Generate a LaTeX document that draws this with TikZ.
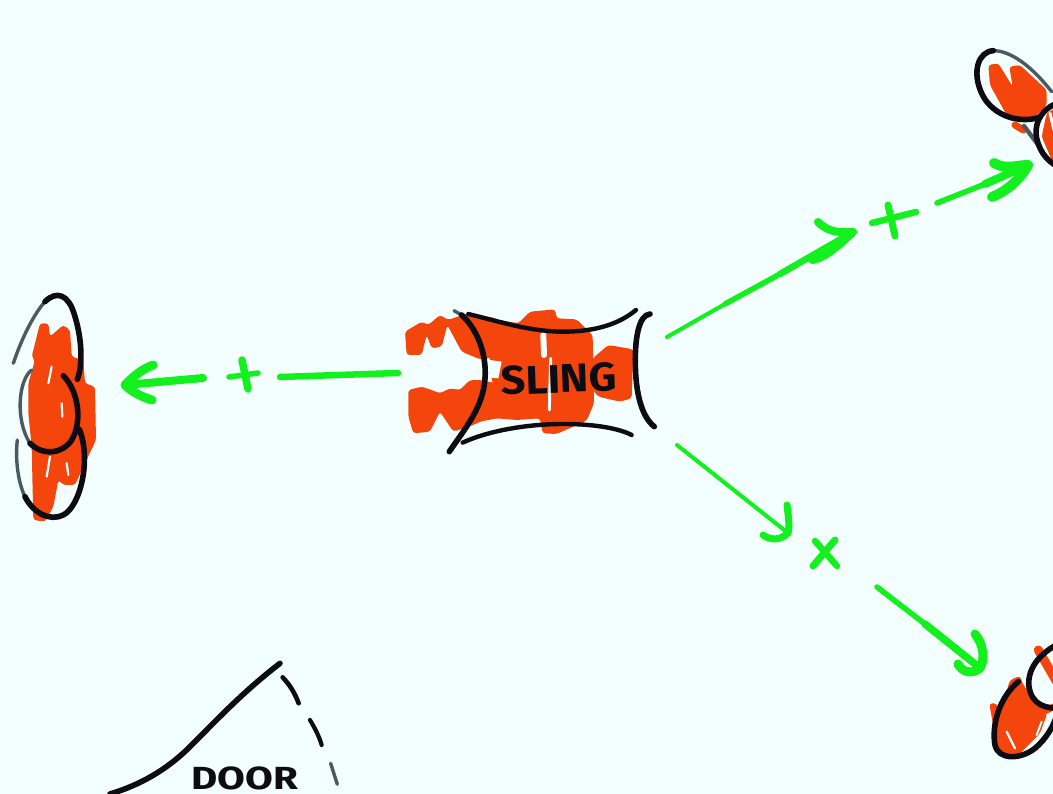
\documentclass[tikz,border=0pt]{standalone}
\usepackage{fontspec}
\setmainfont{Fira Sans}
\definecolor{bg}{HTML}{F3FFFE}
\definecolor{rd}{HTML}{F4450C}
\definecolor{gn}{HTML}{12F01E}
\definecolor{gr}{HTML}{4A5A62}
\definecolor{ink}{HTML}{0C0C12}
\tikzset{
 brush/.style={line cap=round,line join=round},
 scrib/.style={brush,draw=rd,line width=14pt},
 blob/.style={fill=rd,rounded corners=3pt},
 gap/.style={brush,draw=bg,line width=3pt},
 inkline/.style={brush,draw=ink,line width=5.6pt},
 grayline/.style={brush,draw=gr,line width=3.4pt},
 arrowline/.style={brush,draw=gn,line width=6.5pt},
 thinline/.style={brush,draw=gn,line width=4pt},
 midline/.style={brush,draw=gn,line width=5.5pt},
 headline/.style={brush,draw=gn,line width=9pt},
 hand/.style={text=ink,inner sep=0pt},
 zoomA/.style={shift={(390,290)},x=.3333pt,y=-.3333pt},
 zoomB/.style={shift={(0,280)},x=.3333pt,y=-.3333pt},
 zoomC/.style={shift={(850,30)},x=.3333pt,y=-.3333pt},
 zoomD/.style={shift={(850,570)},x=.3333pt,y=-.3333pt},
 zoomE/.style={shift={(90,650)},x=.3333pt,y=-.3333pt},
}
\begin{document}
\begin{tikzpicture}[x=1pt,y=-1pt]
\useasboundingbox (0,0) rectangle (1053,794);
\clip (0,0) rectangle (1053,794);
\fill[bg] (0,0) rectangle (1053,794);

% ---------- sling
\begin{scope}[zoomA]
 \fill[blob] (45,125)--(95,95)--(115,105)--(150,75)--(175,90)--(230,70)--(320,85)--(330,200)--(270,208)--(215,185)--(172,105)--(155,170)--(125,175)--(110,135)--(95,195)--(50,195)--cycle;
 \fill[blob] (300,85)--(385,100)--(420,65)--(495,58)--(500,85)--(560,88)--(608,135)--(612,340)--(590,392)--(500,432)--(458,430)--(450,385)--(330,385)--(300,240)--cycle;
 \fill[blob] (55,300)--(95,290)--(125,300)--(150,310)--(180,295)--(210,300)--(240,270)--(270,270)--(320,280)--(380,260)--(430,280)--(480,370)--(450,385)--(380,390)--(320,385)--(270,395)--(250,405)--(190,425)--(150,365)--(120,425)--(70,430)--(55,380)--cycle;
 \fill[blob] (655,165)--(730,178)--(725,325)--(690,335)--(625,320)--(608,300)--(608,205)--cycle;
 \draw[gap,line width=6pt] (460,135)--(462,195);
 \draw[brush,draw=bg,line width=3pt] (482,205)--(478,360);
 \fill[bg] (285,208)--(335,215)--(325,265)--(290,262)--cycle;
\end{scope}
\node[hand,font=\bfseries\fontsize{40}{40}\selectfont,rotate=2,xscale=1.08] (sling) at (559,379) {SLING};
\begin{scope}[zoomA]
 \draw[grayline] (192,62)--(215,75);
 \draw[inkline] (215,75) .. controls (265,120) and (300,210) .. (280,300) .. controls (265,370) and (215,430) .. (178,485);
 \draw[inkline,line width=4.4pt] (235,72) .. controls (330,95) and (420,125) .. (520,125) .. controls (620,125) and (690,100) .. (738,60);
 \draw[inkline] (780,72) .. controls (745,75) and (735,150) .. (736,220) .. controls (737,310) and (755,380) .. (793,410);
 \draw[inkline,line width=4.4pt] (218,458) .. controls (300,420) and (420,402) .. (520,402) .. controls (600,402) and (680,412) .. (725,435);
\end{scope}

% ---------- left target
\begin{scope}[zoomB]
 \fill[blob] (120,130)--(145,130)--(150,170)--(190,135)--(210,150)--(215,230)--(250,240)--(255,310)--(285,320)--(288,480)--(250,560)--(225,615)--(190,615)--(175,600)--(160,680)--(135,725)--(100,720)--(95,500)--(85,400)--(85,310)--(105,240)--(95,230)--cycle;
 \draw[gap,line width=2.2pt] (150,530)--(140,590);
 \draw[gap,line width=2.2pt] (155,260)--(145,310);
 \draw[gap,line width=2.2pt] (185,370)--(187,410);
 \draw[gap,line width=2.2pt] (200,550)--(205,585);
 \draw[grayline] (40,250) .. controls (60,190) and (95,110) .. (135,65);
 \draw[inkline] (135,65) .. controls (170,30) and (205,45) .. (222,100) .. controls (245,170) and (250,250) .. (232,298);
 \draw[grayline] (95,270) .. controls (55,300) and (45,420) .. (90,490);
 \draw[inkline] (90,490) .. controls (130,530) and (190,520) .. (215,480) .. controls (245,430) and (240,340) .. (190,287);
 \draw[grayline] (52,480) .. controls (45,540) and (55,610) .. (75,650);
 \draw[inkline] (75,650) .. controls (100,700) and (150,725) .. (190,705) .. controls (240,680) and (275,540) .. (238,448);
\end{scope}

% ---------- top right target
\begin{scope}[zoomC]
 \fill[blob] (415,105)--(445,100)--(488,170)--(478,110)--(510,105)--(590,180)--(590,225)--(545,272)--(470,255)--(420,165)--cycle;
 \draw[scrib,line width=7pt] (495,285)--(520,300);
 \fill[blob] (640,220)--(590,250)--(575,320)--(610,400)--(640,410)--cycle;
 \draw[gap,line width=3pt] (600,250)--(612,300);
 \draw[grayline] (430,62) .. controls (470,62) and (530,90) .. (605,185);
 \draw[inkline] (430,62) .. controls (385,65) and (365,125) .. (395,190) .. controls (420,245) and (490,285) .. (570,262);
 \draw[grayline,line width=4.4pt] (522,288)--(565,345);
 \draw[inkline] (640,215) .. controls (585,225) and (550,270) .. (560,325) .. controls (570,370) and (600,405) .. (640,415);
\end{scope}

% ---------- bottom right target
\begin{scope}[zoomD]
 \fill[blob] (418,400)--(440,400)--(450,430)--(480,330)--(510,318)--(520,345)--(592,430)--(570,490)--(490,570)--(440,530)--cycle;
 \draw[scrib,line width=9pt] (565,240)--(640,370);
 \draw[scrib,line width=7pt] (580,425)--(620,405);
 \fill[bg] (560,320)--(609,400)--(590,410)--(560,370)--cycle;
 \draw[gap,line width=2.2pt] (470,485)--(495,535);
 \draw[gap,line width=2pt] (575,455)--(560,495);
 \draw[inkline] (505,335) .. controls (445,385) and (425,470) .. (435,525) .. controls (445,570) and (510,570) .. (555,535) .. controls (590,505) and (610,470) .. (625,425);
 \draw[inkline] (640,215) .. controls (580,240) and (530,290) .. (537,350) .. controls (545,405) and (590,420) .. (640,412);
\end{scope}

% ---------- door
\begin{scope}[zoomE]
 \coordinate (doorA) at (60,432);
 \coordinate (doorB) at (570,40);
 \draw[inkline] (doorA) .. controls (150,405) and (230,360) .. (300,290) .. controls (390,200) and (460,125) .. (doorB);
 \draw[inkline,line width=4.6pt] (578,82) .. controls (600,105) and (615,130) .. (626,160);
 \draw[inkline,line width=4.2pt] (660,210) .. controls (675,235) and (688,260) .. (695,285);
 \draw[grayline] (722,340)--(742,403);
\end{scope}
\node[hand,font=\bfseries\fontsize{32}{32}\selectfont,xscale=1.26,anchor=north] (door) at (245,767) {DOOR};

% ---------- arrow: left
\coordinate (La) at (398,373);
\coordinate (Lb) at (280,377);
\coordinate (Lc) at (203,378);
\coordinate (Ld) at (125,385);
\coordinate (Le) at (153,365);
\coordinate (Lf) at (152,400);
\draw[arrowline] (La) -- (Lb);
\draw[arrowline,line width=8pt] (Lc) -- (Ld);
\draw[headline] (Le) .. controls (140,370) and (132,378) .. (Ld) .. controls (132,392) and (142,397) .. (Lf);
\coordinate (Lp1) at (229,377); \coordinate (Lp2) at (258,373);
\coordinate (Lp3) at (242,360); \coordinate (Lp4) at (248,389);
\draw[arrowline,line width=5.5pt] (Lp1) -- (Lp2);
\draw[arrowline,line width=7.5pt] (Lp3) -- (Lp4);

% ---------- arrow: upper right
\coordinate (Ua) at (667,337);
\coordinate (Um1) at (725,304);
\coordinate (Um2) at (780,274);
\coordinate (Ub) at (853,232);
\coordinate (Uc) at (818,222);
\coordinate (Ud) at (812,260);
\draw[thinline] (Ua) -- (Um1);
\draw[midline] (Um1) -- (Um2);
\draw[arrowline] (Um2) -- (Ub);
\draw[headline,line width=8pt] (Uc) .. controls (830,234) and (842,232) .. (Ub) .. controls (838,246) and (825,258) .. (Ud);
\coordinate (Up1) at (872,223); \coordinate (Up2) at (916,212);
\coordinate (Up3) at (888,205); \coordinate (Up4) at (895,236);
\draw[arrowline] (Up1) -- (Up2);
\draw[arrowline,line width=7pt] (Up3) -- (Up4);
\coordinate (Uf) at (937,203);
\coordinate (Ufm) at (985,184);
\coordinate (Ug) at (1028,165);
\coordinate (Uh) at (994,163);
\coordinate (Ui) at (992,197);
\draw[midline] (Uf) -- (Ufm);
\draw[arrowline,line width=8pt] (Ufm) -- (Ug);
\draw[headline,line width=10pt] (Uh) .. controls (1005,170) and (1018,165) .. (Ug) .. controls (1020,180) and (1005,192) .. (Ui);

% ---------- arrow: lower right
\coordinate (Da) at (677,445);
\coordinate (Db) at (788,533);
\coordinate (Dc) at (787,505);
\coordinate (Dd) at (763,535);
\draw[thinline] (Da) -- (Db);
\draw[headline,line width=7pt] (Dc) .. controls (788,515) and (790,525) .. (Db) .. controls (780,541) and (770,540) .. (Dd);
\coordinate (Dp1) at (813,566); \coordinate (Dp2) at (835,540);
\coordinate (Dp3) at (815,541); \coordinate (Dp4) at (837,566);
\draw[arrowline,line width=7pt] (Dp1) -- (Dp2);
\draw[arrowline] (Dp3) -- (Dp4);
\coordinate (Df) at (877,587);
\coordinate (Dm) at (925,624);
\coordinate (Dg) at (980,668);
\coordinate (Dh) at (975,634);
\coordinate (Di) at (958,664);
\draw[midline] (Df) -- (Dm);
\draw[arrowline,line width=7.5pt] (Dm) -- (Dg);
\draw[headline] (Dh) .. controls (984,645) and (985,660) .. (Dg) .. controls (972,675) and (962,672) .. (Di);
\end{tikzpicture}
\end{document}
